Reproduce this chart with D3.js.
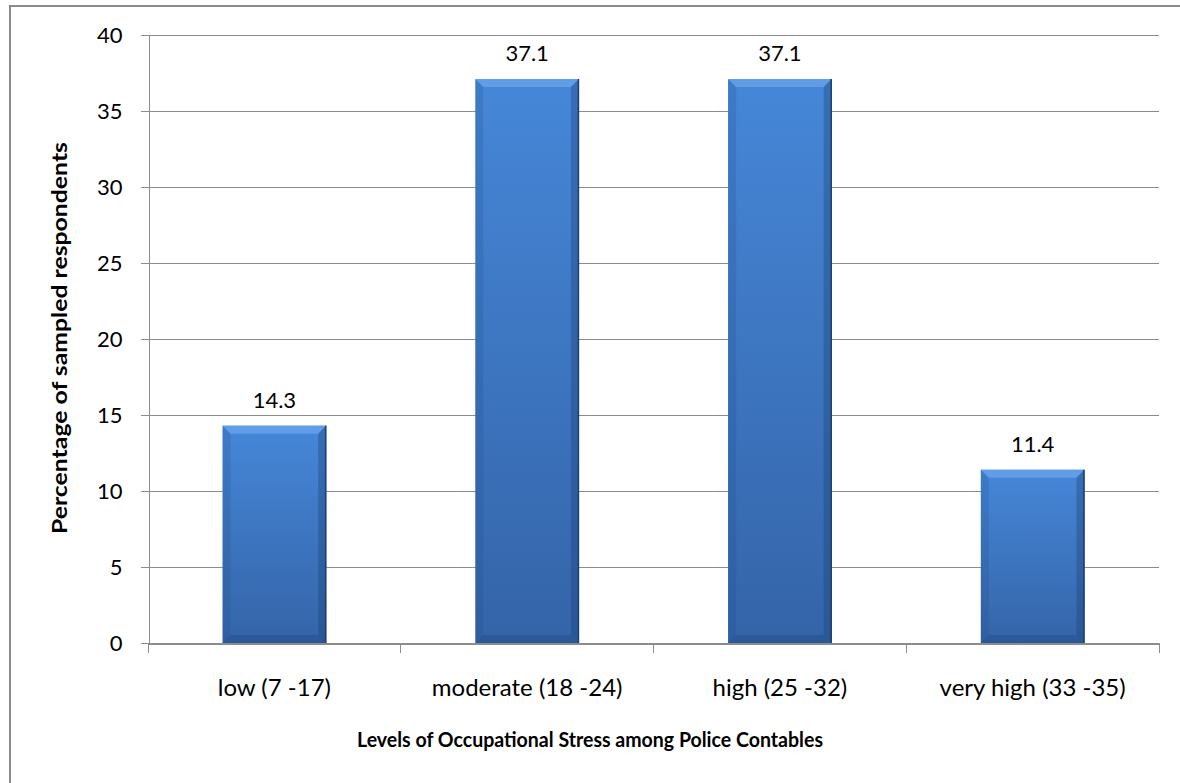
<!DOCTYPE html>
<html lang="en">
<head>
    <meta charset="UTF-8">
    <title>Occupational Stress</title>
    <script src="https://cdn.jsdelivr.net/npm/d3@7"></script>
    <style>
        body { margin: 0; background: #fff; }
        .axis path, .axis line
        {
            fill: none;
            stroke: #8c8c8c;
            shape-rendering: crispEdges;
        }
        .axis text
        {
            font-family: 'Lato';
            font-size: 22px;
            fill: #000;
        }
        .x.axis text
        {
            font-size: 24px;
        }
        .grid line
        {
            stroke: #8c8c8c;
            shape-rendering: crispEdges;
        }
        .title
        {
            font-family: 'Lato';
            font-weight: bold;
            font-size: 21.5px;
        }
        .value
        {
            font-family: 'Lato';
            font-size: 22px;
        }
    </style>
</head>
<body>
<svg id="img" width="1180" height="783"></svg>
<script>
    var categories = ["low (7 -17)", "moderate (18 -24)", "high (25 -32)", "very high (33 -35)"];
    var percentages = [14.3, 37.1, 37.1, 11.4];
    var yTicks = [0, 5, 10, 15, 20, 25, 30, 35, 40];

    var vis = d3.select("#img"),
        MARGINS = { top: 35, right: 21, bottom: 140, left: 148 },
        WIDTH = 1180,
        HEIGHT = 783,
        plotBottom = 643;

    var xRange = d3.scaleBand()
        .domain(categories)
        .range([MARGINS.left, WIDTH - MARGINS.right]);

    var yRange = d3.scaleLinear()
        .domain([0, 40])
        .range([plotBottom, MARGINS.top]);

    // outer frame (right/bottom edges fall outside the picture)
    vis.append("rect")
        .attr("x", 10).attr("y", 6)
        .attr("width", 1220).attr("height", 820)
        .attr("fill", "none")
        .attr("stroke", "#8a8a8a")
        .attr("stroke-width", 2);

    var defs = vis.append("defs");
    var grad = defs.append("linearGradient")
        .attr("id", "barGrad")
        .attr("x1", 0).attr("y1", 0).attr("x2", 0).attr("y2", 1);
    grad.append("stop").attr("offset", "0%").attr("stop-color", "#4687d8");
    grad.append("stop").attr("offset", "100%").attr("stop-color", "#3464a8");

    // gridlines
    vis.append("g")
        .attr("class", "grid")
        .selectAll("line")
        .data(yTicks.slice(1))
        .enter().append("line")
        .attr("x1", MARGINS.left)
        .attr("x2", WIDTH - MARGINS.right)
        .attr("y1", function (d) { return yRange(d) + 0.5; })
        .attr("y2", function (d) { return yRange(d) + 0.5; });

    // bars
    var barW = xRange.bandwidth() * 0.41,
        bev = 8;

    var bars = vis.append("g").selectAll("g")
        .data(percentages)
        .enter().append("g");

    function bx(d, i) { return xRange(categories[i]) + (xRange.bandwidth() - barW) / 2; }

    bars.append("rect")
        .attr("x", bx)
        .attr("y", function (d) { return yRange(d); })
        .attr("width", barW)
        .attr("height", function (d) { return plotBottom - yRange(d); })
        .attr("fill", "url(#barGrad)");

    // bevel faces
    bars.append("polygon")
        .attr("points", function (d, i) {
            var x = bx(d, i), y = yRange(d);
            return [[x, y], [x + barW, y], [x + barW - bev, y + bev], [x + bev, y + bev]].join(" ");
        })
        .attr("fill", "#6ba6ec")
        .attr("opacity", 0.7);

    bars.append("polygon")
        .attr("points", function (d, i) {
            var x = bx(d, i), y = yRange(d);
            return [[x, y], [x + bev, y + bev], [x + bev, plotBottom - bev], [x, plotBottom]].join(" ");
        })
        .attr("fill", "#1f4a86")
        .attr("opacity", 0.2);

    bars.append("polygon")
        .attr("points", function (d, i) {
            var x = bx(d, i) + barW, y = yRange(d);
            return [[x, y], [x - bev, y + bev], [x - bev, plotBottom - bev], [x, plotBottom]].join(" ");
        })
        .attr("fill", "#1a3f73")
        .attr("opacity", 0.35);

    bars.append("polygon")
        .attr("points", function (d, i) {
            var x = bx(d, i);
            return [[x, plotBottom], [x + bev, plotBottom - bev], [x + barW - bev, plotBottom - bev], [x + barW, plotBottom]].join(" ");
        })
        .attr("fill", "#1a3f73")
        .attr("opacity", 0.3);

    bars.append("line")
        .attr("x1", function (d, i) { return bx(d, i) + barW - 0.5; })
        .attr("x2", function (d, i) { return bx(d, i) + barW - 0.5; })
        .attr("y1", function (d) { return yRange(d); })
        .attr("y2", plotBottom)
        .attr("stroke", "#1d3f6e")
        .attr("stroke-width", 1.5);

    // value labels
    vis.append("g").selectAll("text")
        .data(percentages)
        .enter().append("text")
        .attr("class", "value")
        .attr("x", function (d, i) { return xRange(categories[i]) + xRange.bandwidth() / 2; })
        .attr("y", function (d) { return yRange(d) - 18; })
        .attr("text-anchor", "middle")
        .text(function (d) { return d.toFixed(1); });

    // axes
    var xAxis = d3.axisBottom(xRange).tickSize(0).tickPadding(35);
    var xg = vis.append("g")
        .attr("class", "x axis")
        .attr("transform", "translate(0," + (plotBottom + 0.5) + ")")
        .call(xAxis);
    xg.select(".domain").attr("stroke-width", 2);
    xg.selectAll(".sep")
        .data(categories.concat([null]))
        .enter().append("line")
        .attr("class", "sep")
        .attr("x1", function (d, i) { return MARGINS.left + i * xRange.step(); })
        .attr("x2", function (d, i) { return MARGINS.left + i * xRange.step(); })
        .attr("y1", 0).attr("y2", 9);

    var yAxis = d3.axisLeft(yRange).tickValues(yTicks).tickSize(8).tickPadding(18);
    vis.append("g")
        .attr("class", "y axis")
        .attr("transform", "translate(" + (MARGINS.left + 0.5) + ",0)")
        .call(yAxis);

    // axis titles (squeezed to the narrower original face)
    vis.append("text")
        .attr("class", "title")
        .attr("x", 590)
        .attr("y", 747)
        .attr("text-anchor", "middle")
        .attr("textLength", 466)
        .attr("lengthAdjust", "spacingAndGlyphs")
        .text("Levels of Occupational Stress among Police Contables");

    vis.append("text")
        .attr("class", "title")
        .attr("transform", "translate(67," + 338 + ") rotate(-90)")
        .attr("text-anchor", "middle")
        .attr("textLength", 392)
        .attr("lengthAdjust", "spacingAndGlyphs")
        .text("Percentage of sampled respondents");
</script>
</body>
</html>
